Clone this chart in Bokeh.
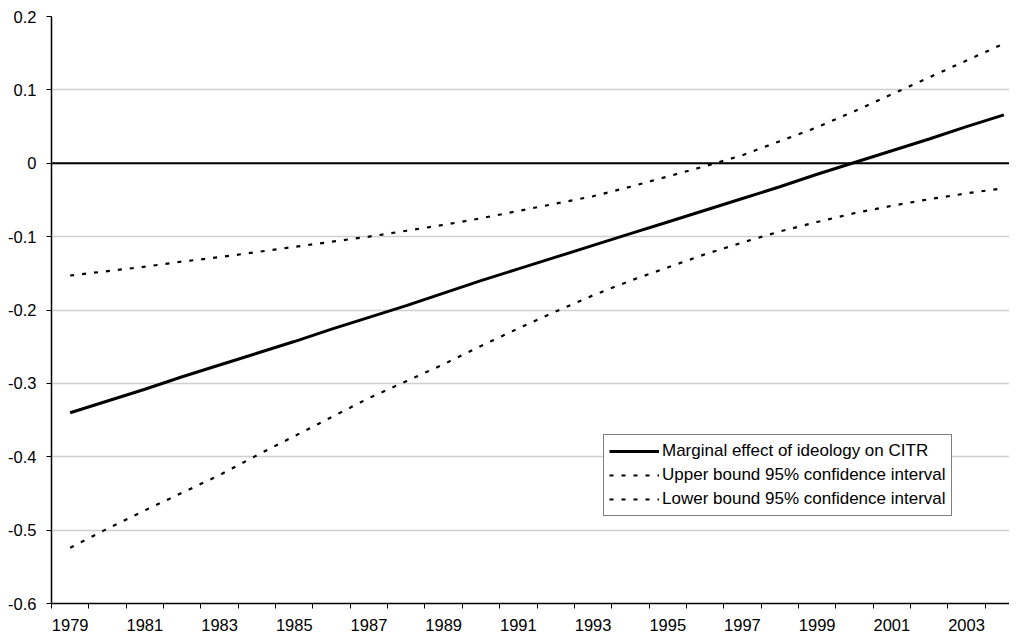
from bokeh.plotting import figure
from bokeh.models import (FixedTicker, Span, Legend, LegendItem, ColumnDataSource,
                          CustomJSTickFormatter, Range1d)
from bokeh.embed import file_html
from bokeh.resources import INLINE

years = list(range(1979, 2005))
marginal = [-0.340, -0.324, -0.308, -0.291, -0.275, -0.259, -0.243, -0.226, -0.210,
            -0.194, -0.177, -0.160, -0.144, -0.128, -0.112, -0.096, -0.080, -0.064,
            -0.048, -0.032, -0.015, 0.001, 0.017, 0.033, 0.050, 0.066]
upper = [-0.153, -0.147, -0.141, -0.134, -0.128, -0.121, -0.114, -0.107, -0.100,
         -0.092, -0.084, -0.075, -0.065, -0.055, -0.045, -0.032, -0.018, -0.004,
         0.011, 0.030, 0.049, 0.071, 0.094, 0.117, 0.140, 0.163]
lower = [-0.524, -0.498, -0.473, -0.449, -0.425, -0.398, -0.372, -0.346, -0.320,
         -0.297, -0.274, -0.249, -0.225, -0.202, -0.180, -0.160, -0.142, -0.124,
         -0.108, -0.093, -0.080, -0.068, -0.058, -0.049, -0.041, -0.034]
series_names = ["Marginal effect of ideology on CITR",
                "Upper bound 95% confidence interval",
                "Lower bound 95% confidence interval"]
x_tick_years = list(range(1979, 2004, 2))
y_ticks = [-0.6, -0.5, -0.4, -0.3, -0.2, -0.1, 0.0, 0.1, 0.2]

FONT = "Liberation Sans"

src = ColumnDataSource(dict(year=years, marginal=marginal, upper=upper, lower=lower))

p = figure(width=1009, height=633, output_backend="svg", toolbar_location=None,
           x_range=Range1d(1978.5, 2004.15), y_range=Range1d(-0.6, 0.2),
           min_border_left=51, min_border_right=0, min_border_top=16, min_border_bottom=29)
p.outline_line_color = None
p.background_fill_color = "white"
p.border_fill_color = "white"

# x axis: category boundaries as ticks, odd-year labels centred
p.xaxis.ticker = FixedTicker(ticks=x_tick_years,
                             minor_ticks=[y - 0.5 for y in years] + [years[-1] + 0.5])
p.xaxis.formatter = CustomJSTickFormatter(code="return String(Math.round(tick));")
p.xaxis.major_tick_out = 0
p.xaxis.major_tick_in = 0
p.xaxis.minor_tick_out = 5
p.xaxis.minor_tick_in = 0
p.xaxis.minor_tick_line_color = "black"
p.xaxis.axis_line_color = "black"
p.xaxis.axis_line_width = 1.5
p.xaxis.major_label_standoff = 10
p.xaxis.major_label_text_font = FONT
p.xaxis.major_label_text_font_size = "16.5px"
p.xaxis.major_label_text_color = "black"

p.yaxis.ticker = FixedTicker(ticks=y_ticks, minor_ticks=[])
p.yaxis.formatter = CustomJSTickFormatter(
    code="const v = Math.round(tick*10)/10; return v === 0 ? '0' : String(v);")
p.yaxis.major_tick_out = 5
p.yaxis.major_tick_in = 0
p.yaxis.major_tick_line_color = "black"
p.yaxis.axis_line_color = "black"
p.yaxis.axis_line_width = 1.5
p.yaxis.major_label_standoff = 10
p.yaxis.major_label_text_font = FONT
p.yaxis.major_label_text_font_size = "16.5px"
p.yaxis.major_label_text_color = "black"

p.xgrid.grid_line_color = None
p.ygrid.ticker = FixedTicker(ticks=y_ticks)
p.ygrid.grid_line_color = "#cfcfcf"
p.ygrid.grid_line_width = 1.3

p.add_layout(Span(location=0, dimension="width", line_color="black", line_width=2))

r_main = p.line("year", "marginal", source=src, line_color="black", line_width=3)
r_up = p.line("year", "upper", source=src, line_color="black", line_width=2.2,
              line_dash="4 8")
r_lo = p.line("year", "lower", source=src, line_color="black", line_width=2.2,
              line_dash="4 8")

legend = Legend(items=[LegendItem(label=series_names[0], renderers=[r_main]),
                       LegendItem(label=series_names[1], renderers=[r_up]),
                       LegendItem(label=series_names[2], renderers=[r_lo])],
                location=(552, 87))
legend.label_text_font = FONT
legend.label_text_font_size = "17px"
legend.label_text_color = "black"
legend.glyph_width = 50
legend.glyph_height = 22
legend.label_height = 22
legend.label_standoff = 3
legend.spacing = 2
legend.padding = 5
legend.margin = 0
legend.border_line_color = "black"
legend.border_line_width = 1
legend.background_fill_color = "white"
legend.background_fill_alpha = 1.0
p.add_layout(legend, "center")

open("out.html", "w").write(file_html(p, INLINE))
